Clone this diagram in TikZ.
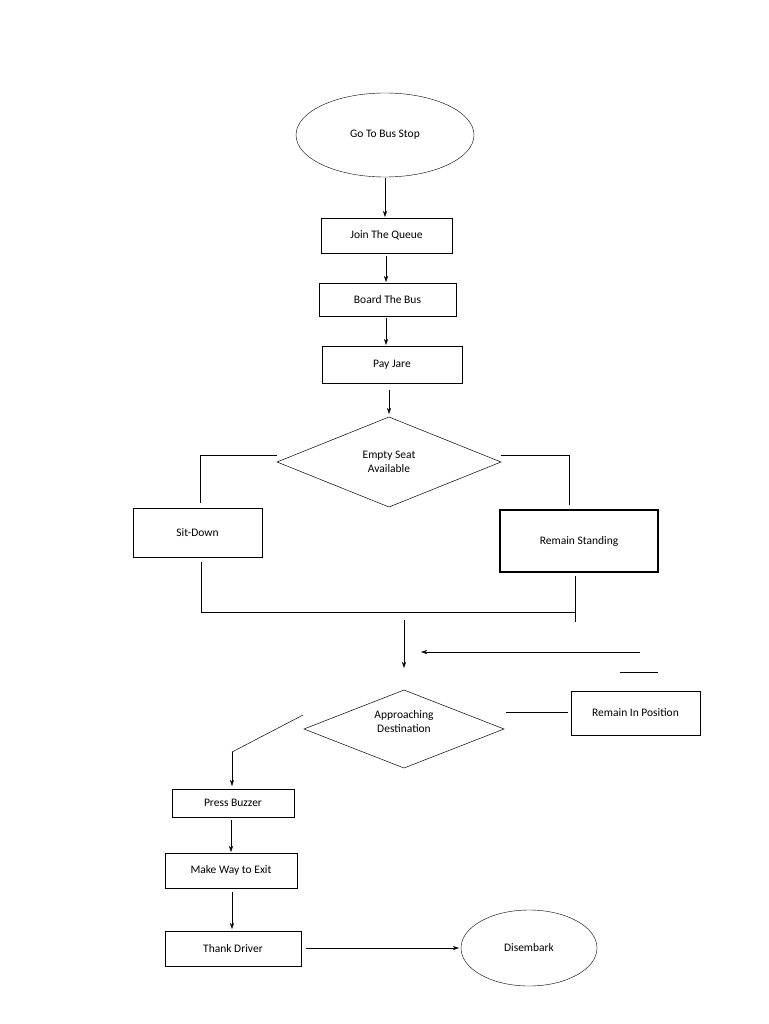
\documentclass[tikz,border=0pt]{standalone}
\usepackage{fontspec}
\setmainfont{Carlito}
\usetikzlibrary{shapes.geometric,arrows.meta}
\begin{document}
\begin{tikzpicture}[x=1pt,y=-1pt,
  every node/.style={font=\fontsize{11.5}{14}\selectfont},
  box/.style={draw,thick,rectangle},
  oval/.style={draw,ellipse},
  arr/.style={-{Stealth[length=6pt,width=4pt]}},
  ln/.style={draw,line width=0.5pt}]
\useasboundingbox (0,0) rectangle (768,1024);
\fill[white] (0,0) rectangle (768,1024);
\node[oval,minimum width=178pt,minimum height=84pt] (go) at (385,135) {Go To Bus Stop};
\node[box,minimum width=131pt,minimum height=35pt] (join) at (386.5,235.5) {Join The Queue};
\node[box,minimum width=137pt,minimum height=33pt] (board) at (387.5,299.5) {Board The Bus};
\node[box,minimum width=140pt,minimum height=37pt] (pay) at (392,364.5) {Pay Jare};
\draw[ln] (277,462) coordinate (d1l) -- (389,417) coordinate (d1t) -- (501,462) coordinate (d1r) -- (389,507) coordinate (d1b) -- cycle;
\node[align=center] (empty) at (389,462) {Empty Seat\\Available};
\node[box,minimum width=129pt,minimum height=49pt] (sit) at (197.5,532.5) {Sit-Down};
\node[box,line width=1.2pt,minimum width=158pt,minimum height=62pt] (stand) at (579,541) {Remain Standing};
\draw[ln] (304,729) coordinate (d2l) -- (404,690) coordinate (d2t) -- (504,729) coordinate (d2r) -- (404,768) coordinate (d2b) -- cycle;
\node[align=center] (appr) at (404,722) {Approaching\\Destination};
\node[box,minimum width=129pt,minimum height=44pt] (rip) at (635.5,713) {Remain In Position};
\node[box,minimum width=122pt,minimum height=28pt] (buzz) at (233,803) {Press Buzzer};
\node[box,minimum width=132pt,minimum height=35pt] (exit) at (231,870.5) {Make Way to Exit};
\node[box,minimum width=136pt,minimum height=35pt] (thank) at (233,948.5) {Thank Driver};
\node[oval,minimum width=136pt,minimum height=76pt] (dis) at (529,948) {Disembark};
\coordinate (a1) at (385,178); \coordinate (a2) at (385,217);
\draw[arr] (a1) -- (a2);
\coordinate (b1) at (386,256); \coordinate (b2) at (386,282);
\draw[arr] (b1) -- (b2);
\coordinate (c1) at (386,318); \coordinate (c2) at (386,345);
\draw[arr] (c1) -- (c2);
\coordinate (e1) at (389,390); \coordinate (e2) at (389,414);
\draw[arr] (e1) -- (e2);
\coordinate (l1) at (277,455); \coordinate (l2) at (200,455); \coordinate (l3) at (200,503);
\draw[ln] (l1) -- (l2) -- (l3);
\coordinate (r1) at (501,455); \coordinate (r2) at (569,455); \coordinate (r3) at (569,505);
\draw[ln] (r1) -- (r2) -- (r3);
\coordinate (m1) at (201,562); \coordinate (m2) at (201,612); \coordinate (m3) at (575,612);
\draw[ln] (m1) -- (m2) -- (m3);
\coordinate (n1) at (575,576); \coordinate (n2) at (575,622);
\draw[ln] (n1) -- (n2);
\coordinate (f1) at (404,620); \coordinate (f2) at (404,668);
\draw[arr] (f1) -- (f2);
\coordinate (g1) at (640,652); \coordinate (g2) at (421,652);
\draw[arr] (g1) -- (g2);
\coordinate (h1) at (620,672); \coordinate (h2) at (658,672);
\draw[ln] (h1) -- (h2);
\coordinate (i1) at (506,712); \coordinate (i2) at (568,712);
\draw[ln] (i1) -- (i2);
\coordinate (j1) at (303,715); \coordinate (j2) at (232,752); \coordinate (j3) at (232,786);
\draw[ln] (j1) -- (j2);
\draw[arr] (j2) -- (j3);
\coordinate (k1) at (231,820); \coordinate (k2) at (231,852);
\draw[arr] (k1) -- (k2);
\coordinate (o1) at (232,892); \coordinate (o2) at (232,929);
\draw[arr] (o1) -- (o2);
\coordinate (p1) at (306,948); \coordinate (p2) at (459,948);
\draw[arr] (p1) -- (p2);
\end{tikzpicture}
\end{document}
